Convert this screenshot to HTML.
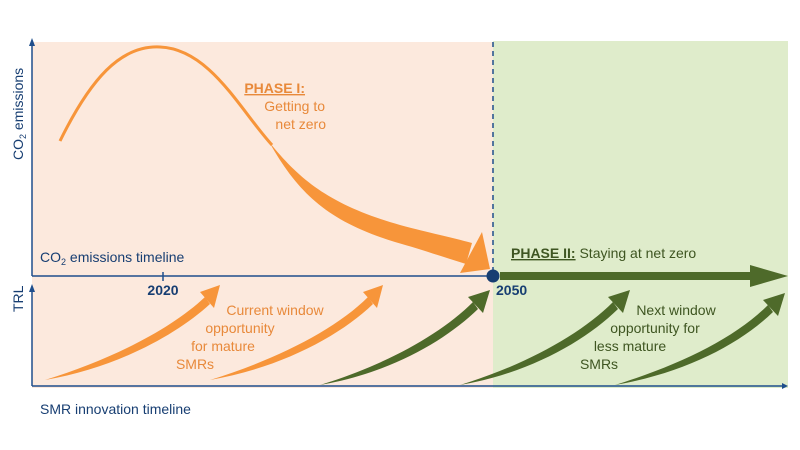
<!DOCTYPE html>
<html><head><style>body{margin:0;background:#fff}svg{display:block}</style></head><body>
<svg width="800" height="450" viewBox="0 0 800 450" xmlns="http://www.w3.org/2000/svg" font-family="Liberation Sans, sans-serif">
<rect x="32" y="42" width="461" height="346" fill="#fce9dd"/>
<rect x="493" y="41" width="295" height="347" fill="#dfeccb"/>
<!-- axes -->
<line x1="32" y1="44" x2="32" y2="276" stroke="#1f4e8c" stroke-width="1.5"/>
<polygon points="29,46 35,46 32,38" fill="#1f4e8c"/>
<line x1="32" y1="276" x2="493" y2="276" stroke="#1f4e8c" stroke-width="1.5"/>
<line x1="163" y1="272" x2="163" y2="281" stroke="#1f4e8c" stroke-width="1.5"/>
<line x1="32" y1="290" x2="32" y2="386" stroke="#1f4e8c" stroke-width="1.5"/>
<polygon points="29,292 35,292 32,284" fill="#1f4e8c"/>
<line x1="32" y1="386" x2="783" y2="386" stroke="#1f4e8c" stroke-width="1.5"/>
<polygon points="782,383 782,389 788,386" fill="#1f4e8c"/>
<line x1="493" y1="42" x2="493" y2="276" stroke="#1f4e8c" stroke-width="1.5" stroke-dasharray="5,4"/>
<!-- orange curve -->
<path d="M60,141 C90,80 120,45 160,47 C210,49 240,110 272,145" fill="none" stroke="#f7953a" stroke-width="3"/>
<path d="M270,143 C300,180 330,205 400,225 C430,233 450,237 472,243 L466,264 C440,256 420,249 395,242 C330,222 300,195 272,147 Z" fill="#f7953a"/>
<polygon points="482,232 490,269 460,273" fill="#f7953a"/>
<!-- green phase II arrow -->
<rect x="500" y="272" width="255" height="8" fill="#4e6a2a"/>
<polygon points="750,265 788,276 750,287" fill="#4e6a2a"/>
<circle cx="493" cy="276" r="6.5" fill="#173e72"/>
<!-- bottom arrows -->
<g>
<path d="M45,380 C110,360 170,330 205,297 L210,304 C175,336 115,368 45,380 Z" fill="#f7953a"/>
<polygon points="200,292 220,285 214,308" fill="#f7953a"/>
<path d="M210,380 C275,360 335,330 368,297 L373,304 C340,336 280,368 210,380 Z" fill="#f7953a"/>
<polygon points="363,292 383,285 377,308" fill="#f7953a"/>
<path d="M320,385 C385,365 440,335 473,302 L478,309 C445,341 390,373 320,385 Z" fill="#4e6a2a"/>
<polygon points="468,297 490,290 483,313" fill="#4e6a2a"/>
<path d="M460,385 C525,365 580,335 613,302 L618,309 C585,341 530,373 460,385 Z" fill="#4e6a2a"/>
<polygon points="608,297 630,290 623,313" fill="#4e6a2a"/>
<path d="M615,385 C680,365 735,338 768,305 L773,312 C740,344 685,373 615,385 Z" fill="#4e6a2a"/>
<polygon points="763,300 785,293 778,316" fill="#4e6a2a"/>
</g>
<!-- text -->
<g fill="#173e72" font-size="14">
<text transform="translate(23,160) rotate(-90)">CO<tspan font-size="9" dy="3">2</tspan><tspan dy="-3"> emissions</tspan></text>
<text transform="translate(23,312) rotate(-90)">TRL</text>
<text x="40" y="262">CO<tspan font-size="9" dy="3">2</tspan><tspan dy="-3"> emissions timeline</tspan></text>
<text x="40" y="414">SMR innovation timeline</text>
<text x="163" y="295" text-anchor="middle" font-weight="bold">2020</text>
<text x="496" y="295" font-weight="bold">2050</text>
</g>
<g fill="#e8893a" font-size="14" text-anchor="end">
<text x="305" y="93" font-weight="bold" text-decoration="underline">PHASE I:</text>
<text x="325" y="111">Getting to</text>
<text x="326" y="129">net zero</text>
</g>
<g fill="#e8893a" font-size="14" text-anchor="middle">
<text x="275" y="315">Current window</text>
<text x="240" y="333">opportunity</text>
<text x="223" y="351">for mature</text>
<text x="195" y="369">SMRs</text>
</g>
<g fill="#3e5521" font-size="14">
<text x="511" y="258"><tspan font-weight="bold" text-decoration="underline">PHASE II:</tspan> Staying at net zero</text>
<g text-anchor="middle">
<text x="676" y="315">Next window</text>
<text x="655" y="333">opportunity for</text>
<text x="630" y="351">less mature</text>
<text x="599" y="369">SMRs</text>
</g></g>
</svg>
</body></html>
